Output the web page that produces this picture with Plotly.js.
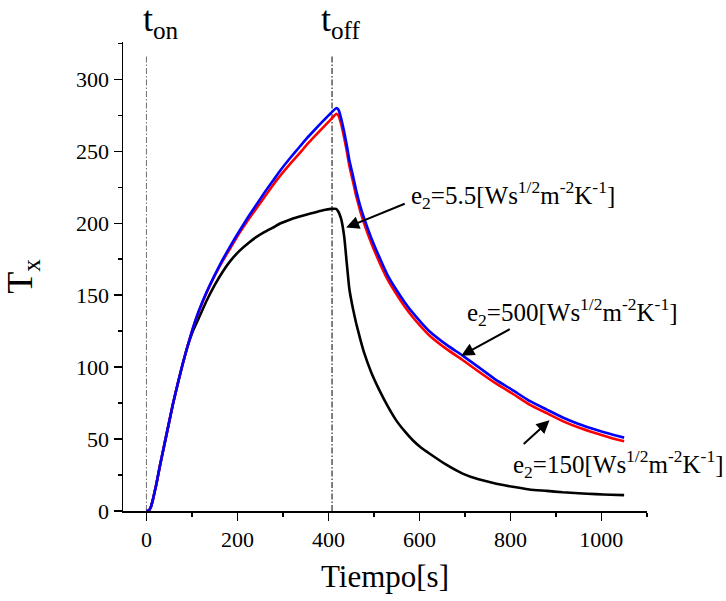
<!DOCTYPE html>
<html>
<head>
<meta charset="utf-8">
<script src="https://cdn.plot.ly/plotly-3.0.1.min.js"></script>
<style>html,body{margin:0;padding:0;background:#fff;}#chart{width:726px;height:601px;}</style>
</head>
<body>
<div id="chart"></div>
<script>
// Time axis (s)
const tiempo = [0,5,10,15,22,30,40,50,58,70,80,90,102,115,132,150,168,185,205,225,242,260,278,295,315,335,351,370,388,405,417,422,428,435,440,446,454,461,470,479,494,512,530,549,568,586,604,622,660,695,730,769,805,842,880,915,950,988,1020,1050];

// e2 = 5.5 (black)
const tx_e55 = [0,0.3,3,9,19,32,47,62,74,90,102.5,114,125,134,146,157,166.5,174,181,186.5,190.5,194,197,200,202.5,204.5,206,207.5,209,210,210,208,203,190,173.5,154.5,140.5,130.5,119.5,109.5,96.5,84,73,63,55.3,49,44,40,32,26,22,19,16.8,15,14,13,12.3,11.7,11.3,11];

// e2 = 150 (red)
const tx_e150 = [0,0.3,3,9,19,32,47,62,74,90,102.5,114,127,138.5,151.5,163.5,174,183,193.5,203,210.5,218.5,226.5,233.5,241,248,254,260.5,266.5,272,276,275,269,259,251,240,229,219,208.5,199.5,186.5,173,161,151,142,134.5,128,122,112.5,105,97,88.5,81.5,74,68,62.5,58,54,51,48.5];

// e2 = 500 (blue)
const tx_e500 = [0,0.3,3,9,19,32,47,62,74,90,102.5,114,127,139,152,164,175,184.5,195,205,213,221.5,229.5,237,245,252.5,258.5,265,271,276.5,280,279,273,263,255,244,233,223,212,203,190,176.5,164,154,145,137.5,131,125,115.5,108,100,91,84,76.5,70.5,65,60.5,56.5,53.5,51];

// Event markers t_on, t_off
const eventLabels = ["t<sub>on</sub>", "t<sub>off</sub>"];
const eventTimes = [0, 408];
const eventColors = ["#707070", "#000000"];
const eventTop = 316;

// Annotation labels
const seriesLabels = [
  "e<sub>2</sub>=5.5[Ws<sup>1/2</sup>m<sup>-2</sup>K<sup>-1</sup>]",
  "e<sub>2</sub>=500[Ws<sup>1/2</sup>m<sup>-2</sup>K<sup>-1</sup>]",
  "e<sub>2</sub>=150[Ws<sup>1/2</sup>m<sup>-2</sup>K<sup>-1</sup>]"
];
const labelPos = [[578, 220], [701, 138], [802, 32.5]];
const arrowHead = [[439, 197], [692, 108], [886, 63]];
const arrowTail = [[571, 214], [802, 127], [826, 45.6]];

const FONT = "Liberation Serif";

const traces = [];
eventTimes.forEach((t, i) => {
  traces.push({
    x: [t, t], y: [0, eventTop], mode: "lines", type: "scatter",
    line: {color: eventColors[i], width: 1, dash: "6px,2px,1.5px,2px"},
    hoverinfo: "skip", showlegend: false
  });
});
traces.push({x: tiempo, y: tx_e55, mode: "lines", type: "scatter", name: "e2=5.5",
  line: {color: "#000000", width: 2.6, shape: "spline", smoothing: 0.4}, showlegend: false});
traces.push({x: tiempo, y: tx_e150, mode: "lines", type: "scatter", name: "e2=150",
  line: {color: "#ff0000", width: 2.6, shape: "spline", smoothing: 0.4}, showlegend: false});
traces.push({x: tiempo, y: tx_e500, mode: "lines", type: "scatter", name: "e2=500",
  line: {color: "#0000ff", width: 2.6, shape: "spline", smoothing: 0.4}, showlegend: false});

const annotations = [];
seriesLabels.forEach((s, i) => {
  annotations.push({
    x: labelPos[i][0], y: labelPos[i][1], xref: "x", yref: "y",
    text: s, showarrow: false, xanchor: "left", yanchor: "middle",
    font: {family: FONT, size: 25, color: "#000"}
  });
  annotations.push({
    x: arrowHead[i][0], y: arrowHead[i][1], xref: "x", yref: "y",
    ax: arrowTail[i][0], ay: arrowTail[i][1], axref: "x", ayref: "y",
    text: "", showarrow: true, arrowhead: 2, arrowsize: 1.3, arrowwidth: 2, arrowcolor: "#000"
  });
});
const eventLabelX = [-11, 380];
eventLabels.forEach((s, i) => {
  annotations.push({
    x: eventLabelX[i], y: 1.0, xref: "x", yref: "paper", yshift: 45,
    text: s, showarrow: false, xanchor: "left", yanchor: "top",
    font: {family: FONT, size: 36, color: "#000"}
  });
});

const axisCommon = {
  showgrid: false, zeroline: false, showline: true, linecolor: "#000", linewidth: 1.5,
  ticks: "outside", ticklen: 8, tickwidth: 1.5, tickcolor: "#000",
  tickfont: {family: FONT, size: 22, color: "#000"}
};

const layout = {
  width: 726, height: 601,
  margin: {l: 123, r: 79, t: 42, b: 90, pad: 0},
  paper_bgcolor: "#fff", plot_bgcolor: "#fff",
  xaxis: Object.assign({}, axisCommon, {
    range: [-51.5, 1100.3], tick0: 0, dtick: 200,
    minor: {ticks: "outside", ticklen: 4, tickwidth: 1.5, tickcolor: "#000", dtick: 100, tick0: 0, showgrid: false},
    title: {text: "Tiempo[s]", font: {family: FONT, size: 31, color: "#000"}, standoff: 14}
  }),
  yaxis: Object.assign({}, axisCommon, {
    range: [0, 326], tick0: 0, dtick: 50,
    minor: {ticks: "outside", ticklen: 4, tickwidth: 1.5, tickcolor: "#000", dtick: 25, tick0: 0, showgrid: false},
    title: {text: "T<sub>x</sub>", font: {family: FONT, size: 36, color: "#000"}, standoff: 36}
  }),
  annotations: annotations,
  showlegend: false
};

Plotly.newPlot("chart", traces, layout, {displayModeBar: false, staticPlot: true});
</script>
</body>
</html>
